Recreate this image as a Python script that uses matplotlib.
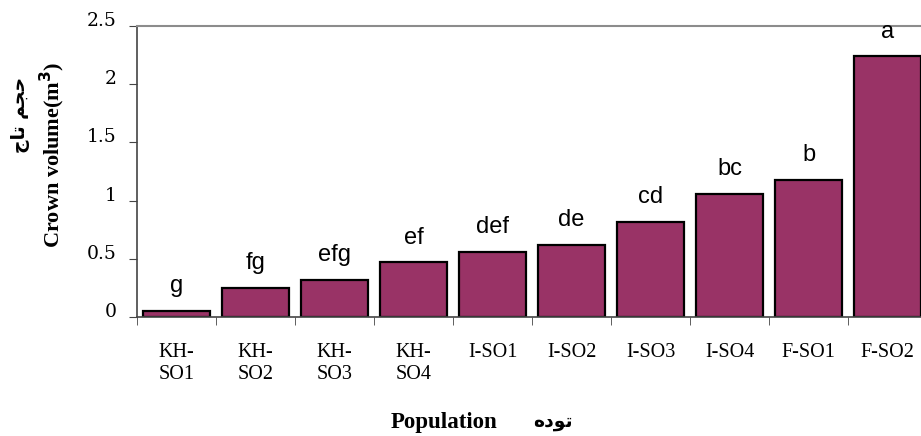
import matplotlib.pyplot as plt
import numpy as np

populations = ['KH-\nSO1', 'KH-\nSO2', 'KH-\nSO3', 'KH-\nSO4', 'I-SO1',
               'I-SO2', 'I-SO3', 'I-SO4', 'F-SO1', 'F-SO2']
crown_volume = [0.05, 0.25, 0.32, 0.47, 0.56, 0.62, 0.82, 1.06, 1.18, 2.24]
groups = ['g', 'fg', 'efg', 'ef', 'def', 'de', 'cd', 'bc', 'b', 'a']
yticks = [0, 0.5, 1, 1.5, 2, 2.5]
ytick_labels = ['0', '0.5', '1', '1.5', '2', '2.5']

# Persian labels written in shaped presentation forms, visual order
fa_ylabel = '\uFE9D\uFE8E\uFE97 \uFEE2\uFEA0\uFEA3'   # حجم تاج
fa_xlabel = '\uFEE9\uFEA9\uFEEE\uFE97'                # توده

fig = plt.figure(figsize=(9.21, 4.36), dpi=100)
ax = fig.add_axes([137/921, (436-317)/436, 790/921, (317-26)/436])

x = np.arange(len(populations))
ax.bar(x, crown_volume, width=0.85, color='#993366', edgecolor='black', linewidth=1.6, zorder=2)

for xi, v, g in zip(x, crown_volume, groups):
    ax.annotate(g, (xi, v), xytext=(0, 13.5), textcoords='offset points',
                ha='center', va='baseline', fontsize=17, family='Liberation Sans',
                annotation_clip=False, zorder=5)

ax.set_xlim(-0.5, len(populations) - 0.5)
ax.set_ylim(0, 2.5)
ax.set_yticks(yticks)
ax.set_yticklabels(ytick_labels, family='DejaVu Serif', fontsize=13.5, va='baseline')
ax.set_xticks(x)
ax.set_xticklabels(populations, family='Liberation Serif', fontsize=14.5, linespacing=1.2, va='top')
ax.tick_params(axis='x', which='major', length=0, pad=19)
ax.set_xticks(np.arange(-0.5, len(populations)), minor=True)
ax.tick_params(axis='x', which='minor', length=6, color='#444444', direction='out')
ax.tick_params(axis='y', length=6, color='#444444', pad=8.5)

for s in ['left', 'bottom']:
    ax.spines[s].set_color('#444444')
    ax.spines[s].set_linewidth(1.2)
ax.spines['top'].set_color('#8c8c8c')
ax.spines['top'].set_linewidth(1.5)
ax.spines['right'].set_visible(False)

fig.text(52/921, 1 - 155/436, 'Crown volume(m$^{\\mathbf{3}}$)', rotation=90, ha='center', va='center',
         family='Liberation Serif', fontweight='bold', fontsize=16)
fig.text(21/921, 1 - 115/436, fa_ylabel, rotation=90, ha='center', va='center',
         family='DejaVu Sans', fontweight='bold', fontsize=13.5)
fig.text(444/921, 1 - 422/436, 'Population', ha='center', va='center',
         family='Liberation Serif', fontweight='bold', fontsize=16.5)
fig.text(553/921, 1 - 421/436, fa_xlabel, ha='center', va='center',
         family='DejaVu Sans', fontweight='bold', fontsize=13.5)

fig.savefig('out.png', dpi=100)
